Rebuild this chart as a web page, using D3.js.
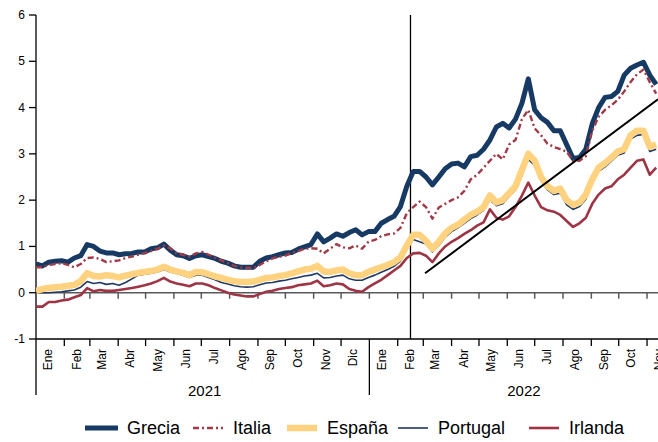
<!DOCTYPE html>
<html>
<head>
<meta charset="utf-8">
<script src="https://cdn.jsdelivr.net/npm/d3@7"></script>
<style>
  body { margin: 0; background: #fff; }
  text { font-family: "Liberation Sans", Arial, sans-serif; fill: #000; }
</style>
</head>
<body>
<script>
  // Weekly samples, starting 1 Jan 2021
  var startDay = "2021-01-01";

  var grecia = [0.62, 0.58, 0.66, 0.68, 0.69, 0.66, 0.75, 0.8, 1.04, 1.0,
    0.9, 0.86, 0.86, 0.82, 0.84, 0.85, 0.88, 0.88, 0.95, 0.97,
    1.05, 0.92, 0.82, 0.8, 0.74, 0.8, 0.82, 0.78, 0.74, 0.68,
    0.64, 0.58, 0.55, 0.55, 0.55, 0.68, 0.75, 0.78, 0.82, 0.86,
    0.87, 0.94, 0.99, 1.04, 1.27, 1.1, 1.18, 1.27, 1.22, 1.30,
    1.36, 1.25, 1.32, 1.32, 1.5, 1.58, 1.65, 1.86, 2.3, 2.62,
    2.62, 2.5, 2.33, 2.5, 2.68, 2.78, 2.8, 2.72, 2.94, 2.97,
    3.1, 3.3, 3.58, 3.66, 3.56, 3.75, 4.09, 4.62, 3.95, 3.78,
    3.68, 3.5, 3.5, 3.2, 2.9, 2.92, 3.1, 3.65, 4.0, 4.22,
    4.24, 4.35, 4.7, 4.85, 4.92, 4.98, 4.7, 4.5];

  var italia = [0.55, 0.55, 0.6, 0.62, 0.64, 0.6, 0.55, 0.62, 0.75, 0.76,
    0.73, 0.66, 0.68, 0.7, 0.75, 0.78, 0.82, 0.86, 0.9, 0.95,
    1.02, 0.96, 0.85, 0.82, 0.78, 0.85, 0.88, 0.82, 0.76, 0.7,
    0.64, 0.58, 0.55, 0.54, 0.53, 0.6, 0.68, 0.74, 0.78, 0.8,
    0.86, 0.9, 0.95, 0.96, 0.95, 0.85, 0.95, 1.05, 0.98, 0.96,
    1.02, 0.95, 1.1, 1.14, 1.22, 1.26, 1.28, 1.4, 1.72, 1.85,
    1.97, 1.85, 1.6, 1.84, 1.92, 2.0, 2.06, 2.2, 2.45, 2.55,
    2.7, 2.85, 3.0, 2.88, 3.2, 3.3, 3.75, 3.95, 3.55, 3.4,
    3.22, 3.15, 3.1, 3.05, 2.85, 2.85, 2.95, 3.5, 3.8, 3.95,
    4.05, 4.17, 4.35, 4.55, 4.72, 4.82, 4.55, 4.3];

  var espana = [0.04, 0.08, 0.1, 0.12, 0.13, 0.15, 0.17, 0.25, 0.42, 0.36,
    0.35, 0.38, 0.36, 0.33, 0.37, 0.4, 0.43, 0.45, 0.47, 0.5,
    0.56, 0.5, 0.46, 0.43, 0.38, 0.45, 0.44, 0.4, 0.35, 0.32,
    0.28, 0.25, 0.23, 0.23, 0.24, 0.28, 0.32, 0.33, 0.36, 0.38,
    0.42, 0.46, 0.5, 0.52, 0.58, 0.46, 0.45, 0.48, 0.5, 0.42,
    0.38, 0.38, 0.45, 0.5, 0.55, 0.6, 0.66, 0.76, 1.02, 1.25,
    1.25, 1.12, 0.95, 1.1, 1.28, 1.4, 1.47, 1.58, 1.68, 1.75,
    1.85, 2.1, 1.95, 2.0, 2.15, 2.3, 2.65, 3.0, 2.85, 2.5,
    2.3, 2.2, 2.25, 2.0, 1.9, 1.95, 2.12, 2.45, 2.7, 2.8,
    2.92, 3.05, 3.1, 3.4, 3.5, 3.5, 3.15, 3.2];

  var portugal = [0.0, 0.0, 0.0, 0.01, 0.02, 0.04, 0.06, 0.12, 0.24, 0.2,
    0.22, 0.18, 0.2, 0.16, 0.22, 0.3, 0.38, 0.4, 0.42, 0.45,
    0.5, 0.45, 0.42, 0.38, 0.33, 0.38, 0.38, 0.33, 0.28, 0.22,
    0.19, 0.15, 0.13, 0.12, 0.13, 0.17, 0.21, 0.22, 0.25, 0.27,
    0.3, 0.33, 0.36, 0.38, 0.42, 0.32, 0.33, 0.36, 0.38, 0.3,
    0.27, 0.27, 0.33, 0.38, 0.44, 0.5, 0.57, 0.68, 0.95, 1.15,
    1.1, 1.05, 0.88, 1.02, 1.2, 1.32, 1.4, 1.5, 1.6, 1.68,
    1.78, 2.0, 1.88, 1.92, 2.08, 2.22, 2.55, 2.88, 2.75, 2.42,
    2.22, 2.12, 2.15, 1.9, 1.8, 1.86, 2.02, 2.38, 2.62, 2.72,
    2.84, 2.97, 3.02, 3.32, 3.4, 3.42, 3.05, 3.1];

  var irlanda = [-0.3, -0.3, -0.2, -0.2, -0.17, -0.15, -0.1, -0.05, 0.1, 0.03,
    0.06, 0.04, 0.04, 0.06, 0.08, 0.1, 0.13, 0.16, 0.2, 0.25,
    0.32, 0.24, 0.2, 0.17, 0.14, 0.2, 0.2, 0.16, 0.1, 0.05,
    0.0, -0.04, -0.06, -0.08, -0.08, -0.03, 0.02, 0.04, 0.08, 0.1,
    0.12, 0.16, 0.18, 0.2, 0.26, 0.14, 0.16, 0.2, 0.18, 0.08,
    0.04, 0.02, 0.12, 0.2, 0.28, 0.38, 0.48, 0.58, 0.75, 0.85,
    0.86, 0.8, 0.66, 0.85, 1.0, 1.1, 1.18, 1.27, 1.35, 1.45,
    1.52, 1.8, 1.62, 1.58, 1.65, 1.85, 2.1, 2.38, 2.1, 1.85,
    1.78, 1.75, 1.68, 1.55, 1.42, 1.5, 1.62, 1.92, 2.12, 2.25,
    2.3, 2.45, 2.55, 2.7, 2.85, 2.88, 2.55, 2.7];

  // trend line drawn on the chart
  var trendDates = ["2022-03-03", "2022-11-13"];
  var trendValues = [0.42, 4.18];

  var markerDate = "2022-02-15";

  var monthNames = ["Ene", "Feb", "Mar", "Abr", "May", "Jun", "Jul", "Ago", "Sep", "Oct", "Nov", "Dic"];
  var years = ["2021", "2022"];
  var yTicks = [-1, 0, 1, 2, 3, 4, 5, 6];

  var seriesNames = ["Grecia", "Italia", "España", "Portugal", "Irlanda"];

  var width = 658, height = 442;
  var parse = d3.timeParse("%Y-%m-%d");

  var x = d3.scaleTime()
    .domain([parse("2021-01-01"), parse("2022-11-13")])
    .range([36, 658]);

  var y = d3.scaleLinear()
    .domain([-1, 6])
    .range([339, 15]);

  var dates = d3.timeDay.range(parse(startDay), parse("2022-11-15"), 7).slice(0, grecia.length);

  var series = [
    {name: "Portugal", values: portugal, color: "#1f3864", width: 1.6, dash: null},
    {name: "España", values: espana, color: "#ffd27f", width: 6.5, dash: null},
    {name: "Grecia", values: grecia, color: "#173a64", width: 5, dash: null},
    {name: "Italia", values: italia, color: "#a13a47", width: 2.4, dash: "6,3,2,3"},
    {name: "Irlanda", values: irlanda, color: "#9e3444", width: 2.6, dash: null}
  ];
  var byName = {};
  series.forEach(function(s) { byName[s.name] = s; });

  var svg = d3.select("body").append("svg")
    .attr("width", width)
    .attr("height", height);

  svg.append("defs").append("clipPath").attr("id", "plotclip")
    .append("rect").attr("x", 36).attr("y", 0).attr("width", 622).attr("height", 345);

  var months = d3.timeMonth.range(parse("2021-01-01"), parse("2022-12-01"));

  // zero line with month ticks
  var y0 = y(0);
  svg.append("line")
    .attr("x1", 36).attr("x2", width)
    .attr("y1", y0).attr("y2", y0)
    .attr("stroke", "#595959").attr("stroke-width", 1.5);

  svg.selectAll(".zt")
    .data(months.slice(1))
    .enter().append("line")
    .attr("class", "zt")
    .attr("x1", function(d) { return x(d); })
    .attr("x2", function(d) { return x(d); })
    .attr("y1", y0).attr("y2", y0 + 6)
    .attr("stroke", "#595959").attr("stroke-width", 1.5);

  // bottom category axis at -1
  var yb = y(-1);
  svg.append("line")
    .attr("x1", 36).attr("x2", width)
    .attr("y1", yb).attr("y2", yb)
    .attr("stroke", "#000").attr("stroke-width", 1.3);

  svg.selectAll(".bt")
    .data(months.slice(1))
    .enter().append("line")
    .attr("class", "bt")
    .attr("x1", function(d) { return x(d); })
    .attr("x2", function(d) { return x(d); })
    .attr("y1", yb)
    .attr("y2", function(d) { return d.getMonth() == 0 ? 395 : yb + 7; })
    .attr("stroke", "#000").attr("stroke-width", 1.3);

  svg.selectAll(".ml")
    .data(months)
    .enter().append("text")
    .attr("class", "ml")
    .attr("transform", function(d) {
      var mid = x(d3.timeDay.offset(d, 15)) - 1.5;
      return "translate(" + mid + "," + (yb + 10) + ") rotate(-90)";
    })
    .attr("text-anchor", "end")
    .attr("dominant-baseline", "central")
    .style("font-size", "12px")
    .text(function(d) { return monthNames[d.getMonth()]; });

  svg.selectAll(".yl")
    .data(years)
    .enter().append("text")
    .attr("class", "yl")
    .attr("x", function(d) {
      var a = x(parse(d + "-01-01"));
      var b = d == "2022" ? x(parse("2022-12-01")) : x(parse("2022-01-01"));
      return (a + b) / 2 + 2;
    })
    .attr("y", 396)
    .attr("text-anchor", "middle")
    .style("font-size", "15px")
    .text(function(d) { return d; });

  // y axis
  var yAxis = svg.append("g");
  yAxis.append("line")
    .attr("x1", 36).attr("x2", 36)
    .attr("y1", y(6)).attr("y2", 395)
    .attr("stroke", "#000").attr("stroke-width", 1.3);
  yAxis.selectAll(".ytk")
    .data(yTicks)
    .enter().append("line")
    .attr("x1", 29).attr("x2", 36)
    .attr("y1", function(d) { return y(d); })
    .attr("y2", function(d) { return y(d); })
    .attr("stroke", "#000").attr("stroke-width", 1.3);
  yAxis.selectAll(".ylab")
    .data(yTicks)
    .enter().append("text")
    .attr("x", 25)
    .attr("y", function(d) { return y(d); })
    .attr("text-anchor", "end")
    .attr("dominant-baseline", "central")
    .style("font-size", "12px")
    .text(function(d) { return d; });

  // vertical marker
  svg.append("line")
    .attr("x1", x(parse(markerDate))).attr("x2", x(parse(markerDate)))
    .attr("y1", y(6)).attr("y2", yb)
    .attr("stroke", "#000").attr("stroke-width", 1.3);

  // series
  var line = d3.line()
    .x(function(d, i) { return x(dates[i]); })
    .y(function(d) { return y(d); });

  var plot = svg.append("g").attr("clip-path", "url(#plotclip)");

  plot.selectAll(".serie")
    .data(series)
    .enter().append("path")
    .attr("class", "serie")
    .attr("d", function(s) { return line(s.values); })
    .attr("fill", "none")
    .attr("stroke", function(s) { return s.color; })
    .attr("stroke-width", function(s) { return s.width; })
    .attr("stroke-dasharray", function(s) { return s.dash; })
    .attr("stroke-linejoin", "round");

  // trend line
  plot.append("line")
    .attr("x1", x(parse(trendDates[0]))).attr("y1", y(trendValues[0]))
    .attr("x2", x(parse(trendDates[1]))).attr("y2", y(trendValues[1]))
    .attr("stroke", "#000").attr("stroke-width", 2);

  // legend
  var legendX = [85, 193, 287, 398, 529];
  var legend = svg.selectAll(".leg")
    .data(seriesNames)
    .enter().append("g")
    .attr("class", "leg")
    .attr("transform", function(d, i) { return "translate(" + legendX[i] + ",428)"; });

  legend.append("line")
    .attr("x1", 0).attr("x2", function(d) { return d == "Grecia" ? 33 : 30; })
    .attr("y1", 0).attr("y2", 0)
    .attr("stroke", function(d) { return byName[d].color; })
    .attr("stroke-width", function(d) { return byName[d].width; })
    .attr("stroke-dasharray", function(d) { return byName[d].dash; });

  legend.append("text")
    .attr("x", function(d) { return d == "Grecia" ? 42 : 40; })
    .attr("y", 0)
    .attr("dominant-baseline", "central")
    .style("font-size", "18px")
    .text(function(d) { return d; });
</script>
</body>
</html>
